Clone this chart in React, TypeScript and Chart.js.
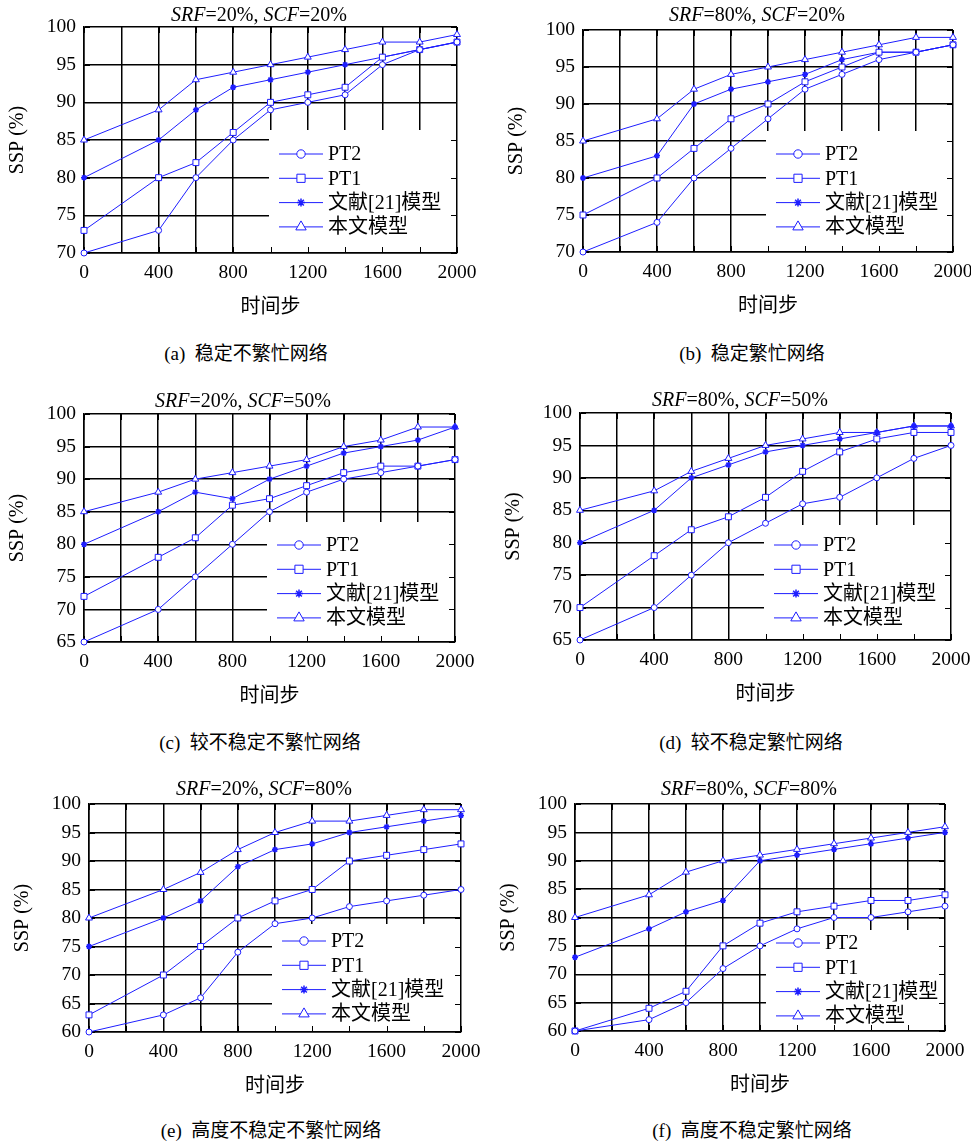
import React, { useEffect, useRef } from 'react';
import { Chart, registerables } from 'chart.js';
import { drawPoint } from 'chart.js/helpers';

Chart.register(...registerables);

// ---------------- data ----------------
const timeSteps = [0, 400, 600, 800, 1000, 1200, 1400, 1600, 1800, 2000];
const xTickLabels = [0, 400, 800, 1200, 1600, 2000];
const seriesNames = ['PT2', 'PT1', '文献[21]模型', '本文模型'];

// (a) SRF=20%, SCF=20%
const aPT2 = [70, 73, 80, 85, 89, 90, 91, 95, 97, 98];
const aPT1 = [73, 80, 82, 86, 90, 91, 92, 96, 97, 98];
const aRef21 = [80, 85, 89, 92, 93, 94, 95, 96, 97, 98];
const aOurs = [85, 89, 93, 94, 95, 96, 97, 98, 98, 99];

// (b) SRF=80%, SCF=20%
const bPT2 = [70, 74, 80, 84, 88, 92, 94, 96, 97, 98];
const bPT1 = [75, 80, 84, 88, 90, 93, 95, 97, 97, 98];
const bRef21 = [80, 83, 90, 92, 93, 94, 96, 97, 97, 98];
const bOurs = [85, 88, 92, 94, 95, 96, 97, 98, 99, 99];

// (c) SRF=20%, SCF=50%
const cPT2 = [65, 70, 75, 80, 85, 88, 90, 91, 92, 93];
const cPT1 = [72, 78, 81, 86, 87, 89, 91, 92, 92, 93];
const cRef21 = [80, 85, 88, 87, 90, 92, 94, 95, 96, 98];
const cOurs = [85, 88, 90, 91, 92, 93, 95, 96, 98, 98];

// (d) SRF=80%, SCF=50%
const dPT2 = [65, 70, 75, 80, 83, 86, 87, 90, 93, 95];
const dPT1 = [70, 78, 82, 84, 87, 91, 94, 96, 97, 97];
const dRef21 = [80, 85, 90, 92, 94, 95, 96, 97, 98, 98];
const dOurs = [85, 88, 91, 93, 95, 96, 97, 97, 98, 98];

// (e) SRF=20%, SCF=80%
const ePT2 = [60, 63, 66, 74, 79, 80, 82, 83, 84, 85];
const ePT1 = [63, 70, 75, 80, 83, 85, 90, 91, 92, 93];
const eRef21 = [75, 80, 83, 89, 92, 93, 95, 96, 97, 98];
const eOurs = [80, 85, 88, 92, 95, 97, 97, 98, 99, 99];

// (f) SRF=80%, SCF=80%
const fPT2 = [60, 62, 65, 71, 75, 78, 80, 80, 81, 82];
const fPT1 = [60, 64, 67, 75, 79, 81, 82, 83, 83, 84];
const fRef21 = [73, 78, 81, 83, 90, 91, 92, 93, 94, 95];
const fOurs = [80, 84, 88, 90, 91, 92, 93, 94, 95, 96];

const yMins = [70, 70, 65, 65, 60, 60];
const srfValues = [20, 80, 20, 80, 20, 80];
const scfValues = [20, 20, 50, 50, 80, 80];
const captions = [
  '(a)\u00a0 稳定不繁忙网络',
  '(b)\u00a0 稳定繁忙网络',
  '(c)\u00a0 较不稳定不繁忙网络',
  '(d)\u00a0 较不稳定繁忙网络',
  '(e)\u00a0 高度不稳定不繁忙网络',
  '(f)\u00a0 高度不稳定繁忙网络',
];
const panelSeries = [
  [aPT2, aPT1, aRef21, aOurs],
  [bPT2, bPT1, bRef21, bOurs],
  [cPT2, cPT1, cRef21, cOurs],
  [dPT2, dPT1, dRef21, dOurs],
  [ePT2, ePT1, eRef21, eOurs],
  [fPT2, fPT1, fRef21, fOurs],
];

// ---------------- layout / style ----------------
const BLUE = '#1e1eff';
const SERIF = '"Times New Roman", "Liberation Serif", Times, "DejaVu Serif", serif, "Noto Sans CJK SC"';
const YW = 84;
const XH = 70;
const PAD_T = 12;
const PAD_R = 24;

const plots = [
  { l: 84, t: 27, r: 457, b: 253 },
  { l: 583, t: 30, r: 953, b: 252 },
  { l: 84, t: 414, r: 455, b: 642 },
  { l: 580, t: 413, r: 951, b: 640 },
  { l: 89, t: 804, r: 461, b: 1032 },
  { l: 575, t: 804, r: 945, b: 1031 },
];
const legendPos = [
  { fromRight: 178, row1: 99, boxTop: 123 },
  { fromRight: 177, row1: 98, boxTop: 121 },
  { fromRight: 178, row1: 97, boxTop: 120 },
  { fromRight: 177, row1: 95, boxTop: 115 },
  { fromRight: 179, row1: 91, boxTop: 108 },
  { fromRight: 169, row1: 88, boxTop: 101 },
];
const titlePos = [
  { x: 259, y: 14 },
  { x: 757, y: 14 },
  { x: 243, y: 400 },
  { x: 740, y: 399 },
  { x: 264, y: 788 },
  { x: 749, y: 788 },
];
const captionPos = [
  { x: 246, y: 353 },
  { x: 752, y: 353 },
  { x: 260, y: 742 },
  { x: 751, y: 742 },
  { x: 271, y: 1130 },
  { x: 752, y: 1130 },
];

const pointStyles = ['circle', 'rect', 'star', 'triangle'];
const pointRadii = [3, 4.2, 3, 4];
const legendRadii = [4.2, 5.8, 4, 6];

function makeOverlay(leg: { fromRight: number; row1: number; boxTop: number }) {
  return {
    id: 'overlay',
    beforeDatasetsDraw(chart: any) {
      const { ctx, chartArea: ca, scales } = chart;
      ctx.save();
      const bl = ca.right - leg.fromRight - 10;
      const bt = ca.bottom - leg.boxTop;
      ctx.fillStyle = '#ffffff';
      ctx.fillRect(bl, bt, ca.right - 1 - bl, ca.bottom - 1 - bt);
      // inward ticks
      ctx.strokeStyle = '#000';
      ctx.lineWidth = 1;
      ctx.beginPath();
      scales.x.ticks.forEach((t: any) => {
        const px = Math.round(scales.x.getPixelForValue(t.value)) + 0.5;
        ctx.moveTo(px, ca.bottom);
        ctx.lineTo(px, ca.bottom - 6);
        ctx.moveTo(px, ca.top);
        ctx.lineTo(px, ca.top + 6);
      });
      scales.y.ticks.forEach((t: any) => {
        const py = Math.round(scales.y.getPixelForValue(t.value)) + 0.5;
        ctx.moveTo(ca.left, py);
        ctx.lineTo(ca.left + 6, py);
        ctx.moveTo(ca.right, py);
        ctx.lineTo(ca.right - 6, py);
      });
      ctx.stroke();
      ctx.restore();
    },
    afterDatasetsDraw(chart: any) {
      const { ctx, chartArea: ca } = chart;
      ctx.save();
      const x0 = ca.right - leg.fromRight;
      chart.data.datasets.forEach((ds: any, i: number) => {
        const y = ca.bottom - leg.row1 + i * 24.3;
        ctx.strokeStyle = BLUE;
        ctx.lineWidth = 1;
        ctx.beginPath();
        ctx.moveTo(x0, y);
        ctx.lineTo(x0 + 44, y);
        ctx.stroke();
        ctx.fillStyle = '#ffffff';
        ctx.strokeStyle = BLUE;
        ctx.lineWidth = i === 2 ? 1.5 : 1;
        drawPoint(ctx, { pointStyle: ds.pointStyle, radius: legendRadii[i], rotation: 0, borderWidth: 1 } as any, x0 + 22, y);
        ctx.fillStyle = '#000';
        ctx.font = `20px ${SERIF}`;
        ctx.textBaseline = 'middle';
        ctx.textAlign = 'left';
        ctx.fillText(ds.label, x0 + 49, y + 1);
      });
      ctx.restore();
    },
  };
}

function Panel({ idx }: { idx: number }) {
  const ref = useRef<HTMLCanvasElement>(null);
  const p = plots[idx];
  const W = p.r - p.l + YW + PAD_R;
  const H = p.b - p.t + PAD_T + XH;

  useEffect(() => {
    if (!ref.current) return;
    const datasets = panelSeries[idx].map((vals, i) => ({
      label: seriesNames[i],
      data: timeSteps.map((x, j) => ({ x, y: vals[j] })),
      borderColor: BLUE,
      borderWidth: 1,
      pointStyle: pointStyles[i],
      pointRadius: pointRadii[i],
      pointBorderColor: BLUE,
      pointBackgroundColor: '#ffffff',
      pointBorderWidth: i === 2 ? 1.5 : 1,
      fill: false,
      tension: 0,
      clip: false,
    }));
    const chart = new Chart(ref.current, {
      type: 'line',
      data: { datasets },
      options: {
        animation: false,
        responsive: false,
        devicePixelRatio: 1,
        layout: { padding: { left: 0, top: PAD_T, right: PAD_R, bottom: 0 } },
        plugins: { legend: { display: false }, tooltip: { enabled: false }, title: { display: false } },
        scales: {
          x: {
            type: 'linear',
            min: 0,
            max: 2000,
            afterFit: (s: any) => {
              s.height = XH;
              s.paddingLeft = 0;
              s.paddingRight = 0;
            },
            ticks: {
              stepSize: 200,
              autoSkip: false,
              maxRotation: 0,
              padding: 8,
              color: '#000',
              font: { family: SERIF, size: 19.5 },
              callback: (v: any) => (xTickLabels.includes(Number(v)) ? String(v) : ''),
            },
            grid: { color: '#000', lineWidth: 1.5, drawTicks: false },
            border: { color: '#000', width: 1.5 },
            title: {
              display: true,
              text: '时间步',
              color: '#000',
              font: { family: SERIF, size: 20 },
              padding: { top: 0, bottom: 3 },
            },
          },
          y: {
            type: 'linear',
            min: yMins[idx],
            max: 100,
            afterFit: (s: any) => {
              s.width = YW;
              s.paddingTop = 0;
              s.paddingBottom = 0;
            },
            ticks: {
              stepSize: 5,
              padding: 8,
              color: '#000',
              font: { family: SERIF, size: 19.5 },
            },
            grid: { color: '#000', lineWidth: 1.5, drawTicks: false },
            border: { color: '#000', width: 1.5 },
            title: {
              display: true,
              text: 'SSP (%)',
              color: '#000',
              font: { family: SERIF, size: 20 },
              padding: { top: 6, bottom: 0 },
            },
          },
        },
      },
      plugins: [makeOverlay(legendPos[idx])],
    } as any);
    return () => chart.destroy();
  }, [idx]);

  const tp = titlePos[idx];
  const cp = captionPos[idx];
  const textBase: React.CSSProperties = {
    position: 'absolute',
    transform: 'translate(-50%, -50%)',
    whiteSpace: 'nowrap',
    lineHeight: 1,
    color: '#000',
    fontFamily: SERIF,
  };
  return (
    <>
      <div style={{ position: 'absolute', left: p.l - YW, top: p.t - PAD_T, width: W, height: H }}>
        <canvas ref={ref} width={W} height={H} style={{ width: W, height: H, display: 'block' }} />
      </div>
      <div style={{ ...textBase, left: tp.x, top: tp.y, fontSize: 20 }}>
        <i>SRF</i>={srfValues[idx]}%, <i>SCF</i>={scfValues[idx]}%
      </div>
      <div style={{ ...textBase, left: cp.x, top: cp.y, fontSize: 19 }}>{captions[idx]}</div>
    </>
  );
}

export default function App() {
  return (
    <div style={{ position: 'absolute', left: 0, top: 0, width: 971, height: 1141, background: '#fff', overflow: 'hidden' }}>
      {[0, 1, 2, 3, 4, 5].map((i) => (
        <Panel key={i} idx={i} />
      ))}
    </div>
  );
}
